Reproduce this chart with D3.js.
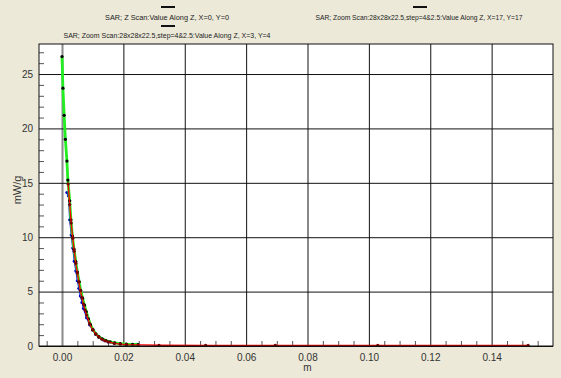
<!DOCTYPE html>
<html>
<head>
<meta charset="utf-8">
<script src="https://cdn.jsdelivr.net/npm/d3@7"></script>
<style>
  body { margin: 0; background: #ece9d8; }
  svg { display: block; font-family: "Liberation Sans", Arial, sans-serif; }
</style>
</head>
<body>
<div id="chart"></div>
<script>
// series names (legend)
var seriesNames = [
    "SAR; Z Scan:Value Along Z, X=0, Y=0",
    "SAR; Zoom Scan:28x28x22.5,step=4&2.5:Value Along Z, X=17, Y=17",
    "SAR; Zoom Scan:28x28x22.5,step=4&2.5:Value Along Z, X=3, Y=4"
];

// Z scan (red)
var zScanX = [0.0020, 0.0025, 0.0030, 0.0035, 0.0040, 0.0045, 0.0050, 0.0055, 0.0060, 0.0065,
              0.0070, 0.0075, 0.0080, 0.0090, 0.0100, 0.0110, 0.0120, 0.0130, 0.0140, 0.0150,
              0.0170, 0.0190, 0.0210, 0.0316, 0.0468, 0.0695, 0.1029, 0.1519];
var zScanY = [14.9, 13.0, 11.3, 9.9, 8.7, 7.6, 6.7, 5.9, 5.1, 4.45,
              3.85, 3.3, 2.85, 2.05, 1.5, 1.1, 0.82, 0.62, 0.48, 0.38,
              0.25, 0.17, 0.12, 0.07, 0.06, 0.06, 0.06, 0.06];

// Zoom scan X=17, Y=17 (green)
var peakX = [0.0000, 0.0003, 0.0007, 0.0011, 0.0016, 0.0019, 0.0025, 0.0029, 0.0034, 0.0039,
             0.0045, 0.0050, 0.0056, 0.0061, 0.0067, 0.0073, 0.0079, 0.0086, 0.0093, 0.0101,
             0.0110, 0.0120, 0.0131, 0.0143, 0.0157, 0.0172, 0.0190, 0.0210, 0.0230, 0.0248];
var peakY = [26.6, 23.7, 21.2, 19.0, 17.0, 15.25, 13.35, 11.6, 10.1, 8.9,
             7.75, 6.8, 5.9, 5.1, 4.4, 3.75, 3.15, 2.5, 1.95, 1.5,
             1.12, 0.86, 0.66, 0.5, 0.37, 0.28, 0.21, 0.17, 0.15, 0.14];

// Zoom scan X=3, Y=4 (blue)
var edgeX = [0.0016, 0.0021, 0.0025, 0.0030, 0.0035, 0.0040, 0.0045, 0.0050, 0.0055, 0.0060,
             0.0065, 0.0070, 0.0080, 0.0090, 0.0100, 0.0110, 0.0120, 0.0135, 0.0150, 0.0170];
var edgeY = [14.1, 13.8, 11.6, 10.2, 9.0, 7.8, 6.9, 6.0, 5.3, 4.6,
             4.0, 3.45, 2.6, 1.95, 1.45, 1.06, 0.8, 0.55, 0.38, 0.25];

var xTicks = [0, 0.02, 0.04, 0.06, 0.08, 0.10, 0.12, 0.14];
var yTicks = [0, 5, 10, 15, 20, 25];

var W = 561, H = 378;
var margin = {left: 39, top: 44, right: 8, bottom: 32};
var pw = W - margin.left - margin.right;
var ph = H - margin.top - margin.bottom;

var svg = d3.select("#chart").append("svg")
    .attr("width", W)
    .attr("height", H);

var x = d3.scaleLinear().domain([-0.0075, 0.16]).range([0, pw]);
var y = d3.scaleLinear().domain([0, 27.76]).range([ph, 0]);

var plot = svg.append("g")
    .attr("transform", "translate(" + margin.left + "," + margin.top + ")");

plot.append("rect")
    .attr("width", pw)
    .attr("height", ph)
    .attr("fill", "#ffffff");

//grid lines + labels
var xAxis = plot.append("g")
    .attr("transform", "translate(0," + ph + ")")
    .call(d3.axisBottom(x).tickValues(xTicks).tickSizeInner(-ph).tickSizeOuter(0)
        .tickPadding(8).tickFormat(d3.format(".2f")));
xAxis.select(".domain").remove();
xAxis.selectAll(".tick line")
    .attr("stroke", function (d) { return d === 0 ? "#8a8a8a" : "#111"; })
    .attr("stroke-width", function (d) { return d === 0 ? 2 : 1; });
xAxis.selectAll(".tick text")
    .attr("font-size", "10px")
    .attr("fill", "#333");

var yAxis = plot.append("g")
    .call(d3.axisLeft(y).tickValues(yTicks).tickSizeInner(-pw).tickSizeOuter(0)
        .tickPadding(6).tickFormat(d3.format("d")));
yAxis.select(".domain").remove();
yAxis.selectAll(".tick line").attr("stroke", "#111");
yAxis.selectAll(".tick text")
    .attr("font-size", "10px")
    .attr("fill", "#333");

//minor ticks
var xMinor = d3.range(-0.005, 0.16, 0.005).filter(function (v) {
    return Math.abs(v / 0.02 - Math.round(v / 0.02)) > 0.01;
});
var xMinorAxis = plot.append("g")
    .attr("transform", "translate(0," + ph + ")")
    .call(d3.axisBottom(x).tickValues(xMinor).tickSizeInner(-5).tickSizeOuter(0).tickFormat(""));
xMinorAxis.select(".domain").remove();
xMinorAxis.selectAll(".tick line").attr("stroke", "#555");

var yMinor = d3.range(1, 28, 1).filter(function (v) { return v % 5 !== 0; });
var yMinorAxis = plot.append("g")
    .call(d3.axisLeft(y).tickValues(yMinor).tickSizeInner(-5).tickSizeOuter(0).tickFormat(""));
yMinorAxis.select(".domain").remove();
yMinorAxis.selectAll(".tick line").attr("stroke", "#555");

//series, drawn back to front: blue, green, red
var series = [
    {xs: edgeX, ys: edgeY, line: "#0000ff", width: 1.2, dot: "#0000cc"},
    {xs: peakX, ys: peakY, line: "#22ee22", width: 2.8, dot: "#000000"},
    {xs: zScanX, ys: zScanY, line: "#ff0000", width: 1.3, dot: "#7a0000"}
];

var lineGen = d3.line()
    .x(function (d) { return x(d[0]); })
    .y(function (d) { return y(d[1]); });

plot.append("clipPath").attr("id", "clip")
    .append("rect").attr("width", pw).attr("height", ph);

var seriesG = plot.append("g").attr("clip-path", "url(#clip)");

series.forEach(function (s) {
    var pts = s.xs.map(function (v, i) { return [v, s.ys[i]]; });
    seriesG.append("path")
        .datum(pts)
        .attr("fill", "none")
        .attr("stroke", s.line)
        .attr("stroke-width", s.width)
        .attr("d", lineGen);
    seriesG.selectAll(null)
        .data(pts)
        .enter()
        .append("circle")
        .attr("cx", function (d) { return x(d[0]); })
        .attr("cy", function (d) { return y(d[1]); })
        .attr("r", 1.6)
        .attr("fill", s.dot);
});

//frame
plot.append("rect")
    .attr("width", pw)
    .attr("height", ph)
    .attr("fill", "none")
    .attr("stroke", "#111")
    .attr("stroke-width", 1);

//axis titles
svg.append("text")
    .attr("x", margin.left + x(0.08))
    .attr("y", 371)
    .attr("text-anchor", "middle")
    .attr("font-size", "10px")
    .attr("fill", "#333")
    .text("m");

svg.append("text")
    .attr("transform", "translate(21,190) rotate(-90)")
    .attr("text-anchor", "middle")
    .attr("font-size", "11px")
    .attr("fill", "#333")
    .text("mW/g");

//legend
var legend = [
    {name: seriesNames[0], cx: 167, lineY: 7, textY: 20, w: 124},
    {name: seriesNames[1], cx: 419, lineY: 7, textY: 20, w: 207},
    {name: seriesNames[2], cx: 167, lineY: 26, textY: 38, w: 207}
];

legend.forEach(function (l) {
    svg.append("line")
        .attr("x1", l.cx - 6)
        .attr("x2", l.cx + 8)
        .attr("y1", l.lineY)
        .attr("y2", l.lineY)
        .attr("stroke", "#111")
        .attr("stroke-width", 2);
    svg.append("text")
        .attr("x", l.cx)
        .attr("y", l.textY)
        .attr("text-anchor", "middle")
        .attr("font-size", "8px")
        .attr("fill", "#222")
        .attr("textLength", l.w)
        .attr("lengthAdjust", "spacingAndGlyphs")
        .text(l.name);
});
</script>
</body>
</html>
